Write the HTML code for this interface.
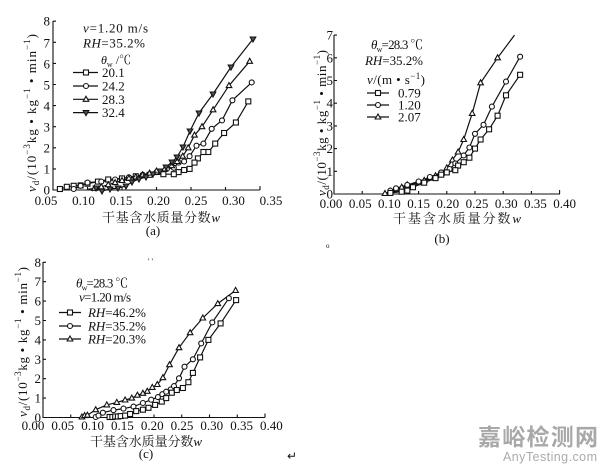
<!DOCTYPE html>
<html><head><meta charset="utf-8"><style>
html,body{margin:0;padding:0;background:#fff;}
svg{display:block;}
text{font-family:"Liberation Serif","Noto Serif CJK SC",serif;fill:#111;}
.cn{font-family:"Liberation Serif","Noto Serif CJK SC",serif;}
.ax{stroke:#111;stroke-width:1.1;fill:none;}
.ln{stroke:#111;stroke-width:1.2;fill:none;}
</style></head><body>
<svg width="600" height="466" viewBox="0 0 600 466" xmlns="http://www.w3.org/2000/svg" xmlns:xlink="http://www.w3.org/1999/xlink">
<defs>
<rect id="sq" x="-2.5" y="-2.5" width="5" height="5" fill="#fff" stroke="#111" stroke-width="1.1"/>
<circle id="ci" r="2.5" fill="#fff" stroke="#111" stroke-width="1.1"/>
<path id="tu" d="M0,-3 L2.8,2 L-2.8,2 Z" fill="#fff" stroke="#111" stroke-width="1.1"/>
<path id="td" d="M0,3 L2.8,-2 L-2.8,-2 Z" fill="#555" stroke="#111" stroke-width="1.1"/>
</defs>
<rect width="600" height="466" fill="#fff"/>

<!-- ================= (a) ================= -->
<path class="ax" d="M53,21 V190 H260"/>
<path class="ax" d="M53,168.9h3M53,147.8h3M53,126.7h3M53,105.6h3M53,84.5h3M53,63.4h3M53,42.3h3M53,21.2h3
M87.5,190v-3M122,190v-3M156.5,190v-3M191,190v-3M225.5,190v-3M260,190v-4"/>
<g font-size="13" text-anchor="end">
<text x="50" y="194.5">0</text><text x="50" y="173.5">1</text><text x="50" y="152.5">2</text><text x="50" y="131.5">3</text>
<text x="50" y="110.5">4</text><text x="50" y="89.5">5</text><text x="50" y="68.5">6</text><text x="50" y="47.5">7</text><text x="50" y="25.5">8</text>
</g>
<g font-size="13" text-anchor="middle">
<text x="46" y="205">0.05</text><text x="83.5" y="205">0.10</text><text x="121" y="205">0.15</text><text x="158.5" y="205">0.20</text>
<text x="196" y="205">0.25</text><text x="233.5" y="205">0.30</text><text x="271" y="205">0.35</text>
</g>
<text class="cn" x="102" y="222" font-size="13" textLength="118" lengthAdjust="spacing">干基含水质量分数<tspan font-style="italic">w</tspan></text>
<text x="153" y="235" font-size="13" text-anchor="middle">(a)</text>
<text transform="translate(36,192) rotate(-90)" font-size="13" textLength="158" lengthAdjust="spacing"><tspan font-style="italic">v</tspan><tspan font-size="9" dy="3">d</tspan><tspan dy="-3">/(10</tspan><tspan font-size="9" dy="-6">−3</tspan><tspan dy="6">kg • kg</tspan><tspan font-size="9" dy="-6">−1</tspan><tspan dy="6"> • min</tspan><tspan font-size="9" dy="-6">−1</tspan><tspan dy="6">)</tspan></text>
<!-- legend a -->
<text x="83" y="32.5" font-size="13" textLength="65" lengthAdjust="spacing"><tspan font-style="italic">v</tspan>=1.20 m/s</text>
<text x="83" y="47.5" font-size="13" textLength="62" lengthAdjust="spacing"><tspan font-style="italic">RH</tspan>=35.2%</text>
<text x="101" y="64" font-size="12"><tspan font-style="italic">θ</tspan><tspan font-size="8" dy="3">w</tspan><tspan dy="-3"> /℃</tspan></text>
<path class="ln" d="M73,72.5H98M73,86H98M73,99.3H98M73,112.6H98"/>
<use href="#sq" x="86" y="72.5"/><use href="#ci" x="86" y="86"/><use href="#tu" x="86" y="99.3"/><use href="#td" x="86" y="112.6"/>
<g font-size="13"><text x="102" y="77">20.1</text><text x="102" y="90.5">24.2</text><text x="102" y="104">28.3</text><text x="102" y="117">32.4</text></g>
<!-- series a -->
<polyline class="ln" points="253,39 231,67 213,94 199,113 190,131 183,147 177,157 172,162 166,167 160,171 153,174 146,177 139,179 132,182 126,186 118,188 110,189 102,191 96,188 92,191"/>
<polyline class="ln" points="249.7,61.3 229,85.6 213.1,109.8 202,126.7 194.5,135.1 188.2,147.8 182.7,156.2 177.2,161.5 171.7,165.7 164.8,168.9 156.5,171 149.6,173.1 142.7,174.8 135.8,176.9 128.9,178.4 122,180.5 115.1,182.6 108.2,184.7 101.3,186.8 94.4,188.3 87.5,189.4"/>
<polyline class="ln" points="251.7,82.4 232.4,100.3 222,120.4 211.7,128.8 203.4,143.6 196.5,145.7 189.6,156.2 184.1,161.5 178.6,162.6 173.8,167.8 166.9,168.9 156.5,172.1 142.7,174.8 128.9,177.3 115.1,179.5 101.3,181.6 87.5,182.6 80.6,185.8 73.7,189"/>
<polyline class="ln" points="248.3,101.4 235.9,122.5 224.1,133 215.2,143.6 208.3,152 203.4,152 197.9,158.4 194.5,162.6 189.6,168.9 184.1,170 178.6,172.1 173.8,174.2 163.4,174.2 149.6,174.8 135.8,176.3 122,178.4 108.2,179.5 97.9,181.6 87.5,183.7 80.6,185.4 73.7,185.8 66.8,186.8 59.9,189 57.8,190"/>
<g>
<use href="#sq" x="248.3" y="101.4"/><use href="#sq" x="235.9" y="122.5"/><use href="#sq" x="224.1" y="133"/><use href="#sq" x="215.2" y="143.6"/><use href="#sq" x="208.3" y="152"/><use href="#sq" x="203.4" y="152"/><use href="#sq" x="197.9" y="158.4"/><use href="#sq" x="194.5" y="162.6"/><use href="#sq" x="189.6" y="168.9"/><use href="#sq" x="184.1" y="170"/><use href="#sq" x="178.6" y="172.1"/><use href="#sq" x="173.8" y="174.2"/><use href="#sq" x="163.4" y="174.2"/><use href="#sq" x="149.6" y="174.8"/><use href="#sq" x="135.8" y="176.3"/><use href="#sq" x="122" y="178.4"/><use href="#sq" x="108.2" y="179.5"/><use href="#sq" x="97.9" y="181.6"/><use href="#sq" x="87.5" y="183.7"/><use href="#sq" x="80.6" y="185.4"/><use href="#sq" x="73.7" y="185.8"/><use href="#sq" x="66.8" y="186.8"/><use href="#sq" x="59.9" y="189"/>
<use href="#ci" x="251.7" y="82.4"/><use href="#ci" x="232.4" y="100.3"/><use href="#ci" x="222" y="120.4"/><use href="#ci" x="211.7" y="128.8"/><use href="#ci" x="203.4" y="143.6"/><use href="#ci" x="196.5" y="145.7"/><use href="#ci" x="189.6" y="156.2"/><use href="#ci" x="184.1" y="161.5"/><use href="#ci" x="178.6" y="162.6"/><use href="#ci" x="173.8" y="167.8"/><use href="#ci" x="166.9" y="168.9"/><use href="#ci" x="156.5" y="172.1"/><use href="#ci" x="142.7" y="174.8"/><use href="#ci" x="128.9" y="177.3"/><use href="#ci" x="115.1" y="179.5"/><use href="#ci" x="101.3" y="181.6"/><use href="#ci" x="87.5" y="182.6"/><use href="#ci" x="80.6" y="185.8"/><use href="#ci" x="73.7" y="189"/>
<use href="#tu" x="249.7" y="61.3"/><use href="#tu" x="229" y="85.6"/><use href="#tu" x="213.1" y="109.8"/><use href="#tu" x="202" y="126.7"/><use href="#tu" x="194.5" y="135.1"/><use href="#tu" x="188.2" y="147.8"/><use href="#tu" x="182.7" y="156.2"/><use href="#tu" x="177.2" y="161.5"/><use href="#tu" x="171.7" y="165.7"/><use href="#tu" x="164.8" y="168.9"/><use href="#tu" x="156.5" y="171"/><use href="#tu" x="149.6" y="173.1"/><use href="#tu" x="142.7" y="174.8"/><use href="#tu" x="135.8" y="176.9"/><use href="#tu" x="128.9" y="178.4"/><use href="#tu" x="122" y="180.5"/><use href="#tu" x="115.1" y="182.6"/><use href="#tu" x="108.2" y="184.7"/><use href="#tu" x="101.3" y="186.8"/><use href="#tu" x="94.4" y="188.3"/>
<use href="#td" x="253" y="39"/><use href="#td" x="231" y="67"/><use href="#td" x="213" y="94"/><use href="#td" x="199" y="113"/><use href="#td" x="190" y="131"/><use href="#td" x="183" y="147"/><use href="#td" x="177" y="157"/><use href="#td" x="172" y="162"/><use href="#td" x="166" y="167"/><use href="#td" x="160" y="171"/><use href="#td" x="153" y="174"/><use href="#td" x="146" y="177"/><use href="#td" x="139" y="179"/><use href="#td" x="132" y="182"/><use href="#td" x="126" y="186"/><use href="#td" x="118" y="188"/><use href="#td" x="110" y="189"/><use href="#td" x="102" y="191"/><use href="#td" x="96" y="188"/>
</g>

<!-- ================= (b) ================= -->
<path class="ax" d="M334,35 V194 H560"/>
<path class="ax" d="M334,171.3h3M334,148.6h3M334,125.9h3M334,103.2h3M334,80.5h3M334,57.8h3M334,35.1h3
M362.2,194v-3M390.4,194v-3M418.6,194v-3M446.8,194v-3M475,194v-3M503.2,194v-3M531.4,194v-3M559.6,194v-4"/>
<g font-size="13" text-anchor="end">
<text x="333" y="198.5">0</text><text x="333" y="175.8">1</text><text x="333" y="153.1">2</text><text x="333" y="130.4">3</text>
<text x="333" y="107.7">4</text><text x="333" y="85">5</text><text x="333" y="62.3">6</text><text x="333" y="39.6">7</text>
</g>
<g font-size="13" text-anchor="middle">
<text x="331" y="208">0.00</text><text x="360.2" y="208">0.05</text><text x="389.4" y="208">0.10</text><text x="418.6" y="208">0.15</text>
<text x="447.8" y="208">0.20</text><text x="477" y="208">0.25</text><text x="506.2" y="208">0.30</text><text x="535.4" y="208">0.35</text><text x="564.6" y="208">0.40</text>
</g>
<text class="cn" x="393" y="223" font-size="13" textLength="128" lengthAdjust="spacing">干基含水质量分数<tspan font-style="italic">w</tspan></text>
<text x="442" y="243" font-size="13" text-anchor="middle">(b)</text>
<text x="326" y="248" font-size="7">o</text>
<text transform="translate(326,196) rotate(-90)" font-size="13" textLength="146" lengthAdjust="spacing"><tspan font-style="italic">v</tspan><tspan font-size="9" dy="3">d</tspan><tspan dy="-3">/(10</tspan><tspan font-size="9" dy="-6">−3</tspan><tspan dy="6">kg • kg</tspan><tspan font-size="9" dy="-6">−1</tspan><tspan dy="6"> • min</tspan><tspan font-size="9" dy="-6">−1</tspan><tspan dy="6">)</tspan></text>
<!-- legend b -->
<text x="371" y="49" font-size="13" textLength="52" lengthAdjust="spacing"><tspan font-style="italic">θ</tspan><tspan font-size="8" dy="3">w</tspan><tspan dy="-3">=28.3 ℃</tspan></text>
<text x="365" y="65" font-size="13" textLength="58" lengthAdjust="spacing"><tspan font-style="italic">RH</tspan>=35.2%</text>
<text x="367" y="84" font-size="13" textLength="58" lengthAdjust="spacing"><tspan font-style="italic">v</tspan>/(m • s<tspan font-size="9" dy="-5">−1</tspan><tspan dy="5">)</tspan></text>
<path class="ln" d="M367,93H389M367,105H389M367,117H389"/>
<use href="#sq" x="378" y="93"/><use href="#ci" x="378" y="105"/><use href="#tu" x="378" y="117"/>
<g font-size="13"><text x="398" y="97.5">0.79</text><text x="398" y="109.5">1.20</text><text x="398" y="121.5">2.07</text></g>
<!-- series b -->
<polyline class="ln" points="514.5,35.1 497.6,57.8 480.6,82.8 472.2,113.4 463.7,139.5 458.1,152 452.4,160 446.8,167.9 441.2,173.6 435.5,175.8 429.9,178.1 424.2,180.4 418.6,182.7 407.3,184.9 401.7,187.2 396,189.5 390.4,191.7 384.8,194"/>
<polyline class="ln" points="520.1,56.7 506,81.6 491.9,106.6 483.5,124.8 475,133.8 469.4,147.5 463.7,155.4 455.3,163.4 449.6,169 441.2,172.4 429.9,177 418.6,181.5 407.3,184.9 396,188.3 390.4,190.6 384.8,194"/>
<polyline class="ln" points="520.1,74.8 506,95.3 497.6,115.7 489.1,129.3 480.6,139.5 475,148.6 469.4,157.7 463.7,162.2 458.1,165.6 455.3,170.2 446.8,172.4 441.2,174.7 435.5,178.1 424.2,182.7 413,187.2 407.3,190.6 401.7,191.7 390.4,192.9 387.6,194"/>
<g>
<use href="#tu" x="497.6" y="57.8"/><use href="#tu" x="480.6" y="82.8"/><use href="#tu" x="472.2" y="113.4"/><use href="#tu" x="463.7" y="139.5"/><use href="#tu" x="458.1" y="152"/><use href="#tu" x="452.4" y="160"/><use href="#tu" x="446.8" y="167.9"/><use href="#tu" x="441.2" y="173.6"/><use href="#tu" x="435.5" y="175.8"/><use href="#tu" x="429.9" y="178.1"/><use href="#tu" x="424.2" y="180.4"/><use href="#tu" x="418.6" y="182.7"/><use href="#tu" x="407.3" y="184.9"/><use href="#tu" x="401.7" y="187.2"/><use href="#tu" x="396" y="189.5"/><use href="#tu" x="390.4" y="191.7"/><use href="#tu" x="385" y="193.5"/>
<use href="#ci" x="520.1" y="56.7"/><use href="#ci" x="506" y="81.6"/><use href="#ci" x="491.9" y="106.6"/><use href="#ci" x="483.5" y="124.8"/><use href="#ci" x="475" y="133.8"/><use href="#ci" x="469.4" y="147.5"/><use href="#ci" x="463.7" y="155.4"/><use href="#ci" x="455.3" y="163.4"/><use href="#ci" x="449.6" y="169"/><use href="#ci" x="441.2" y="172.4"/><use href="#ci" x="429.9" y="177"/><use href="#ci" x="418.6" y="181.5"/><use href="#ci" x="407.3" y="184.9"/><use href="#ci" x="396" y="188.3"/><use href="#ci" x="390.4" y="190.6"/>
<use href="#sq" x="520.1" y="74.8"/><use href="#sq" x="506" y="95.3"/><use href="#sq" x="497.6" y="115.7"/><use href="#sq" x="489.1" y="129.3"/><use href="#sq" x="480.6" y="139.5"/><use href="#sq" x="475" y="148.6"/><use href="#sq" x="469.4" y="157.7"/><use href="#sq" x="463.7" y="162.2"/><use href="#sq" x="458.1" y="165.6"/><use href="#sq" x="455.3" y="170.2"/><use href="#sq" x="446.8" y="172.4"/><use href="#sq" x="441.2" y="174.7"/><use href="#sq" x="435.5" y="178.1"/><use href="#sq" x="424.2" y="182.7"/><use href="#sq" x="413" y="187.2"/><use href="#sq" x="407.3" y="190.6"/><use href="#sq" x="401.7" y="191.7"/><use href="#sq" x="390.4" y="192.9"/>
</g>

<!-- ================= (c) ================= -->
<path class="ax" d="M43,262 V417.5 H265"/>
<path class="ax" d="M43,398.1h3M43,378.7h3M43,359.3h3M43,339.9h3M43,320.5h3M43,301.1h3M43,281.7h3M43,262.3h3
M70.75,417.5v-3M98.5,417.5v-3M126.25,417.5v-3M154,417.5v-3M181.75,417.5v-3M209.5,417.5v-3M237.25,417.5v-3M265,417.5v-4"/>
<g font-size="13" text-anchor="end">
<text x="41" y="422">0</text><text x="41" y="402.6">1</text><text x="41" y="383.2">2</text><text x="41" y="363.8">3</text>
<text x="41" y="344.4">4</text><text x="41" y="325">5</text><text x="41" y="305.6">6</text><text x="41" y="286.2">7</text><text x="41" y="266.8">8</text>
</g>
<g font-size="13" text-anchor="middle">
<text x="33" y="430">0.00</text><text x="62.8" y="430">0.05</text><text x="92.6" y="430">0.10</text><text x="122.4" y="430">0.15</text>
<text x="152.2" y="430">0.20</text><text x="182" y="430">0.25</text><text x="211.8" y="430">0.30</text><text x="241.6" y="430">0.35</text><text x="271.4" y="430">0.40</text>
</g>
<text class="cn" x="90" y="446" font-size="13" textLength="112" lengthAdjust="spacing">干基含水质量分数<tspan font-style="italic">w</tspan></text>
<text x="146" y="458" font-size="13" text-anchor="middle">(c)</text>
<text x="148" y="264" font-size="8" fill="#888">' '</text>
<text x="287" y="460" font-size="12" fill="#555">↵</text>
<text transform="translate(27,417) rotate(-90)" font-size="13" textLength="150" lengthAdjust="spacing"><tspan font-style="italic">v</tspan><tspan font-size="9" dy="3">d</tspan><tspan dy="-3">/(10</tspan><tspan font-size="9" dy="-6">−3</tspan><tspan dy="6">kg • kg</tspan><tspan font-size="9" dy="-6">−1</tspan><tspan dy="6"> • min</tspan><tspan font-size="9" dy="-6">−1</tspan><tspan dy="6">)</tspan></text>
<!-- legend c -->
<text x="76" y="287.5" font-size="13" textLength="52" lengthAdjust="spacing"><tspan font-style="italic">θ</tspan><tspan font-size="8" dy="3">w</tspan><tspan dy="-3">=28.3 ℃</tspan></text>
<text x="79" y="301.5" font-size="13" textLength="52" lengthAdjust="spacing"><tspan font-style="italic">v</tspan>=1.20 m/s</text>
<path class="ln" d="M59,312.5H81M59,326H81M59,339H81"/>
<use href="#sq" x="70" y="312.5"/><use href="#ci" x="70" y="326"/><use href="#tu" x="70" y="339"/>
<g font-size="13">
<text x="88" y="317" textLength="58" lengthAdjust="spacing"><tspan font-style="italic">RH</tspan>=46.2%</text>
<text x="88" y="330.5" textLength="58" lengthAdjust="spacing"><tspan font-style="italic">RH</tspan>=35.2%</text>
<text x="88" y="343.5" textLength="58" lengthAdjust="spacing"><tspan font-style="italic">RH</tspan>=20.3%</text>
</g>
<!-- series c -->
<polyline class="ln" points="81.9,417.5 84.6,415.6 87.4,415.2 95.7,409.7 106.8,404.9 116.8,402.4 125.1,400 131.8,398.1 137.4,395.2 142.9,393.3 147.3,391.3 152.3,387.4 157.3,384.5 162.9,377.7 169.5,364.7 179,347.7 190.1,332.7 202.8,318 217.8,303.6 235.6,290.4"/>
<polyline class="ln" points="95.7,417.5 98.5,415.6 102.9,412.7 113.5,410.1 123.5,408.6 133.5,406.6 142.9,403 151.2,399.7 157.9,397.1 162.3,394.2 166.2,391.7 170.7,389.4 174,386.1 179,378.3 184.5,366.7 192.9,359.3 201.2,343.4 212.3,322.4 228.9,298.2"/>
<polyline class="ln" points="109.6,417.5 112.4,417.1 115.2,416.5 117.9,416.5 120.7,416.1 125.1,415.6 130.1,414 136.2,411.1 142.9,409.7 148.5,407.8 155.1,404.9 161.8,401.6 166.2,398.1 171.8,392.7 176.8,390 182.9,388 188.4,382.2 192.9,372.9 200.1,357.4 208.4,339.9 220.6,323.4 236.1,300.1"/>
<g>
<use href="#tu" x="81.9" y="417"/><use href="#tu" x="84.6" y="415.6"/><use href="#tu" x="87.4" y="415.2"/><use href="#tu" x="95.7" y="409.7"/><use href="#tu" x="106.8" y="404.9"/><use href="#tu" x="116.8" y="402.4"/><use href="#tu" x="125.1" y="400"/><use href="#tu" x="131.8" y="398.1"/><use href="#tu" x="137.4" y="395.2"/><use href="#tu" x="142.9" y="393.3"/><use href="#tu" x="147.3" y="391.3"/><use href="#tu" x="152.3" y="387.4"/><use href="#tu" x="157.3" y="384.5"/><use href="#tu" x="162.9" y="377.7"/><use href="#tu" x="169.5" y="364.7"/><use href="#tu" x="179" y="347.7"/><use href="#tu" x="190.1" y="332.7"/><use href="#tu" x="202.8" y="318"/><use href="#tu" x="217.8" y="303.6"/><use href="#tu" x="235.6" y="290.4"/>
<use href="#ci" x="95.7" y="417"/><use href="#ci" x="98.5" y="415.6"/><use href="#ci" x="102.9" y="412.7"/><use href="#ci" x="113.5" y="410.1"/><use href="#ci" x="123.5" y="408.6"/><use href="#ci" x="133.5" y="406.6"/><use href="#ci" x="142.9" y="403"/><use href="#ci" x="151.2" y="399.7"/><use href="#ci" x="157.9" y="397.1"/><use href="#ci" x="162.3" y="394.2"/><use href="#ci" x="166.2" y="391.7"/><use href="#ci" x="170.7" y="389.4"/><use href="#ci" x="174" y="386.1"/><use href="#ci" x="179" y="378.3"/><use href="#ci" x="184.5" y="366.7"/><use href="#ci" x="192.9" y="359.3"/><use href="#ci" x="201.2" y="343.4"/><use href="#ci" x="212.3" y="322.4"/><use href="#ci" x="228.9" y="298.2"/>
<use href="#sq" x="109.6" y="417"/><use href="#sq" x="112.4" y="417"/><use href="#sq" x="115.2" y="416.5"/><use href="#sq" x="117.9" y="416.5"/><use href="#sq" x="120.7" y="416.1"/><use href="#sq" x="125.1" y="415.6"/><use href="#sq" x="130.1" y="414"/><use href="#sq" x="136.2" y="411.1"/><use href="#sq" x="142.9" y="409.7"/><use href="#sq" x="148.5" y="407.8"/><use href="#sq" x="155.1" y="404.9"/><use href="#sq" x="161.8" y="401.6"/><use href="#sq" x="166.2" y="398.1"/><use href="#sq" x="171.8" y="392.7"/><use href="#sq" x="176.8" y="390"/><use href="#sq" x="182.9" y="388"/><use href="#sq" x="188.4" y="382.2"/><use href="#sq" x="192.9" y="372.9"/><use href="#sq" x="200.1" y="357.4"/><use href="#sq" x="208.4" y="339.9"/><use href="#sq" x="220.6" y="323.4"/><use href="#sq" x="236.1" y="300.1"/>
</g>

<!-- watermark -->
<text x="478" y="445" font-size="23" font-weight="bold" style="font-family:'Noto Sans CJK SC','WenQuanYi Zen Hei',sans-serif;fill:#a8a8a8" textLength="120" lengthAdjust="spacing">嘉峪检测网</text>
<text x="503" y="461" font-size="12.5" style="font-family:'Liberation Sans',sans-serif;fill:#ababab" textLength="94" lengthAdjust="spacing">AnyTesting.com</text>
</svg>
</body></html>
